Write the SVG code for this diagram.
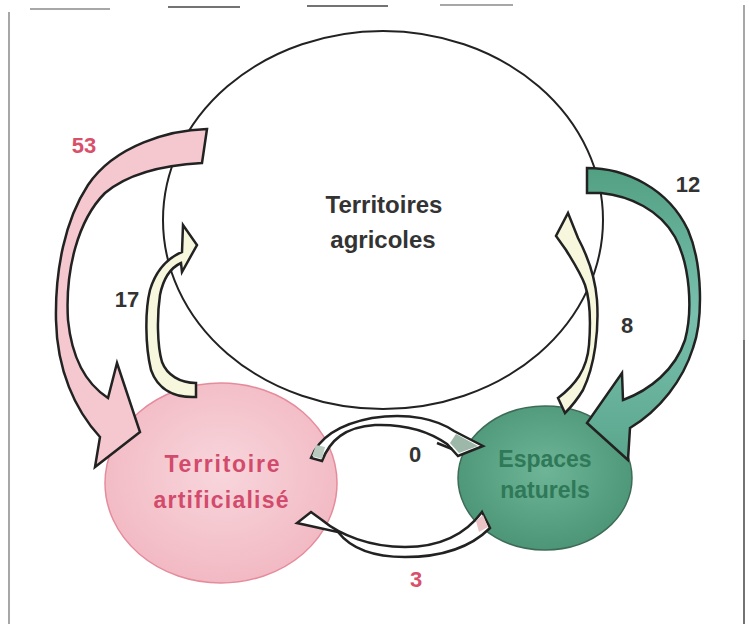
<svg xmlns="http://www.w3.org/2000/svg" width="749" height="624" viewBox="0 0 749 624">
<defs>
<style>
.t{font-family:"Liberation Sans",Arial,sans-serif;font-weight:bold;text-anchor:middle}
.arr{stroke:#222;stroke-width:2.5;stroke-linejoin:miter;stroke-linecap:round}
.frame{stroke:#8a8a8a;stroke-width:1.5;fill:none}
</style>
<radialGradient id="gPink" cx="50%" cy="45%" r="55%">
<stop offset="0" stop-color="#f8d6dc"/><stop offset="1" stop-color="#f2b9c3"/>
</radialGradient>
<radialGradient id="gGreen" cx="50%" cy="45%" r="55%">
<stop offset="0" stop-color="#6db596"/><stop offset="1" stop-color="#4c9677"/>
</radialGradient>
<linearGradient id="gArr12" x1="0" y1="0" x2="0" y2="1">
<stop offset="0" stop-color="#52a083"/><stop offset="0.5" stop-color="#79c0ae"/><stop offset="1" stop-color="#5aa68c"/>
</linearGradient>
</defs>
<rect width="749" height="624" fill="#ffffff"/>
<g id="frame">
<line class="frame" x1="9" y1="12" x2="9" y2="624"/>
<line class="frame" x1="744" y1="5" x2="744" y2="340"/>
<line x1="744" y1="340" x2="744" y2="624" stroke="#444" stroke-width="1.5"/>
<line class="frame" x1="30" y1="9" x2="110" y2="9"/>
<line x1="168" y1="7" x2="240" y2="7" stroke="#444" stroke-width="1.5"/>
<line x1="307" y1="6" x2="388" y2="6" stroke="#444" stroke-width="1.5"/>
<line class="frame" x1="440" y1="5" x2="513" y2="5"/>
</g>
<g id="node-agricoles">
<ellipse cx="383" cy="220" rx="220" ry="189" fill="#ffffff" stroke="#222" stroke-width="2"/>
<text class="t" x="384" y="213" font-size="24" fill="#333">Territoires</text>
<text class="t" x="383" y="248" font-size="24" fill="#333">agricoles</text>
</g>
<g id="node-artificialise">
<ellipse cx="221" cy="483" rx="116" ry="100" fill="url(#gPink)" stroke="#e58c9c" stroke-width="1.5"/>
<text class="t" x="222" y="472" font-size="23" fill="#d24a6c" textLength="115" lengthAdjust="spacing">Territoire</text>
<text class="t" x="221" y="508" font-size="23" fill="#d24a6c" textLength="135" lengthAdjust="spacing">artificialisé</text>
</g>
<g id="node-naturels">
<ellipse cx="545" cy="478" rx="87" ry="72" fill="url(#gGreen)" stroke="#3e6b58" stroke-width="1.5"/>
<text class="t" x="545" y="467" font-size="23" fill="#2f7858">Espaces</text>
<text class="t" x="545" y="498" font-size="23" fill="#2f7858">naturels</text>
</g>
<g id="connectors">
<g id="arrow-53">
<path class="arr" fill="#f5c8d0" d="M207,129 C170,130 115,145 88,185 C65,220 55,270 56,320 C57,370 75,410 100,437 L95,467 L140,432 L117,363 L108,398 C88,385 72,360 68,320 C65,270 78,220 105,193 C130,172 165,165 202,163 Z"/>
<text class="t" x="84" y="153" font-size="22" fill="#d9506a">53</text>
</g>
<g id="arrow-17">
<path class="arr" fill="#f6f7dd" d="M196,383 L196,397 C175,398 158,390 151,370 C145,345 145,310 150,290 C156,270 168,258 182,252 L183,225 L197,245 L182,272 L181,263 C170,268 163,280 160,295 C157,315 157,345 162,362 C167,375 180,383 196,383 Z"/>
<text class="t" x="127" y="307" font-size="22" fill="#333">17</text>
</g>
<g id="arrow-12">
<path class="arr" fill="url(#gArr12)" d="M587,168 C625,168 668,188 688,230 C703,265 703,320 693,348 C683,380 660,410 630,428 L628,460 L587,423 L622,373 L623,400 C650,390 675,370 685,340 C693,310 690,265 675,237 C660,210 630,196 601,193 L587,193 Z"/>
<text class="t" x="688" y="192" font-size="22" fill="#333">12</text>
</g>
<g id="arrow-8">
<path class="arr" fill="#f6f7dd" d="M558,398 C575,385 587,370 589,345 C591,320 590,300 585,285 C580,272 572,260 566,250 L556,236 L568,213 L578,238 C587,255 595,275 597,300 C599,330 595,365 583,390 C577,400 570,408 565,413 Z"/>
<text class="t" x="627" y="333" font-size="22" fill="#333">8</text>
</g>
<g id="arrow-0">
<path class="arr" fill="#ffffff" d="M311,458 C318,440 335,425 372,418 C410,412 438,420 454,431 L483,446 L458,456 L447,444 C430,432 405,424 375,425 C345,427 330,440 322,461 Z"/>
<path d="M312,456 L316,445 L325,447 L322,459 Z" fill="#b9cbbf"/>
<path d="M456,434 L478,446 L459,453 L450,443 Z" fill="#9db8a8"/>
<line x1="437" y1="443" x2="452" y2="449" stroke="#222" stroke-width="2.5"/>
<text class="t" x="415" y="462" font-size="22" fill="#333">0</text>
</g>
<g id="arrow-3">
<path class="arr" fill="#ffffff" d="M482,512 L490,528 C470,548 440,557 405,557 C375,557 352,550 338,532 L297,523 L311,512 L322,520 C340,535 370,547 405,547 C440,547 465,535 482,512 Z"/>
<path d="M483,515 L488,527 L479,532 L476,521 Z" fill="#e9c3c6"/>
<text class="t" x="416" y="587" font-size="22" fill="#d9506a">3</text>
</g>
</g>
</svg>
